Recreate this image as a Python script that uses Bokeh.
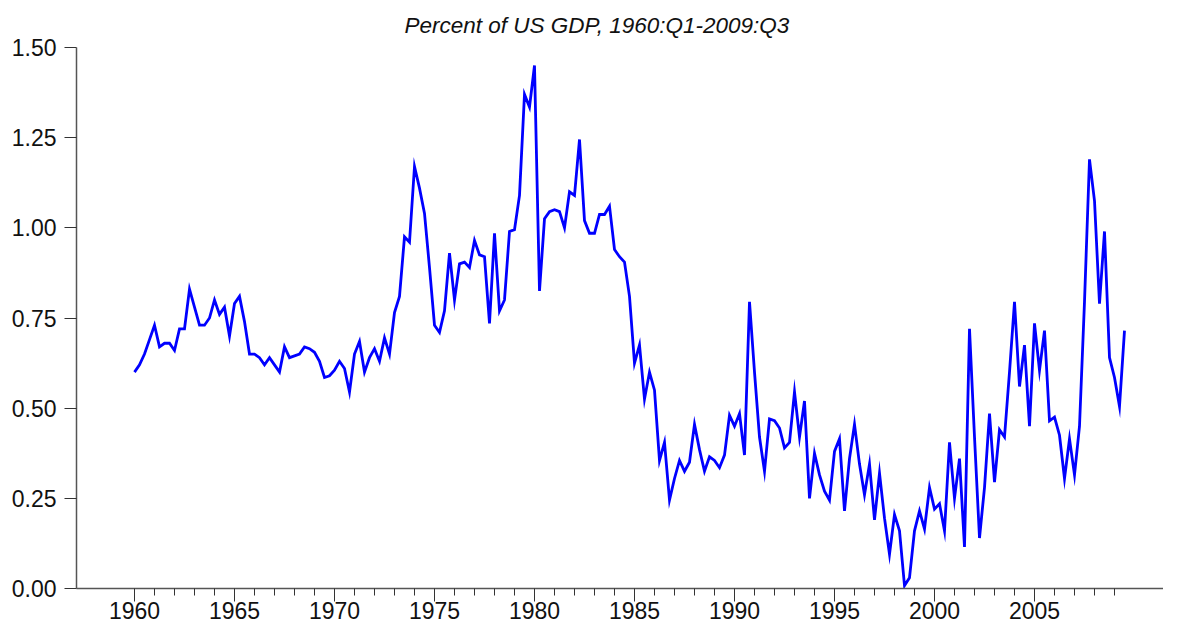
import pandas as pd
from bokeh.plotting import figure
from bokeh.models import Range1d, FixedTicker, ColumnDataSource
from bokeh.embed import file_html
from bokeh.resources import INLINE

title_text = "Percent of US GDP, 1960:Q1-2009:Q3"

# Quarterly values (percent of GDP)
vals_1960s = [0.60, 0.62, 0.65, 0.69, 0.73, 0.67, 0.68, 0.68, 0.66, 0.72,
              0.72, 0.83, 0.78, 0.73, 0.73, 0.75, 0.80, 0.76, 0.78, 0.70,
              0.79, 0.81, 0.74, 0.65, 0.65, 0.64, 0.62, 0.64, 0.62, 0.60,
              0.67, 0.64, 0.645, 0.65, 0.67, 0.665, 0.655, 0.63, 0.585, 0.59]
vals_1970s = [0.605, 0.63, 0.61, 0.545, 0.65, 0.685, 0.60, 0.64, 0.665, 0.63,
              0.695, 0.65, 0.765, 0.81, 0.975, 0.96, 1.17, 1.11, 1.04, 0.89,
              0.73, 0.71, 0.77, 0.93, 0.80, 0.90, 0.905, 0.89, 0.965, 0.925,
              0.92, 0.735, 0.985, 0.77, 0.80, 0.99, 0.995, 1.09, 1.37, 1.335]
vals_1980s = [1.45, 0.825, 1.025, 1.045, 1.05, 1.045, 1.0, 1.10, 1.09, 1.245,
              1.02, 0.985, 0.985, 1.037, 1.037, 1.06, 0.94, 0.92, 0.905, 0.81,
              0.625, 0.675, 0.525, 0.60, 0.55, 0.355, 0.405, 0.245, 0.305, 0.355,
              0.325, 0.35, 0.455, 0.385, 0.325, 0.365, 0.355, 0.335, 0.37, 0.48]
vals_1990s = [0.45, 0.485, 0.37, 0.795, 0.60, 0.42, 0.325, 0.47, 0.465, 0.445,
              0.39, 0.405, 0.545, 0.42, 0.52, 0.25, 0.375, 0.315, 0.27, 0.245,
              0.38, 0.415, 0.215, 0.36, 0.455, 0.345, 0.26, 0.345, 0.19, 0.32,
              0.195, 0.095, 0.205, 0.16, 0.008, 0.03, 0.16, 0.215, 0.165, 0.28]
vals_2000s = [0.22, 0.235, 0.16, 0.405, 0.25, 0.36, 0.115, 0.72, 0.42, 0.14,
              0.28, 0.485, 0.295, 0.44, 0.42, 0.60, 0.795, 0.56, 0.675, 0.45,
              0.735, 0.605, 0.715, 0.465, 0.475, 0.425, 0.305, 0.415, 0.315, 0.45,
              0.795, 1.19, 1.075, 0.79, 0.99, 0.64, 0.585, 0.505, 0.715]

values = vals_1960s + vals_1970s + vals_1980s + vals_1990s + vals_2000s
quarters = pd.period_range("1960Q1", "2009Q3", freq="Q")
dates = [q.year + (q.quarter - 1) / 4.0 for q in quarters]

y_ticks = [0.0, 0.25, 0.5, 0.75, 1.0, 1.25, 1.5]
y_tick_labels = ["0.00", "0.25", "0.50", "0.75", "1.00", "1.25", "1.50"]
x_major_years = [1960, 1965, 1970, 1975, 1980, 1985, 1990, 1995, 2000, 2005]
x_minor_years = [y for y in range(1961, 2010) if y % 5 != 0]

source = ColumnDataSource(data=dict(date=dates, value=values))

FONT = "Liberation Sans"

p = figure(width=1163, height=626, output_backend="svg", toolbar_location=None,
           x_range=Range1d(1957.1, 2011.45), y_range=Range1d(0, 1.5),
           min_border_left=76, min_border_right=0, min_border_top=47,
           min_border_bottom=38, title=title_text)

p.title.align = "left"
p.title.offset = 328
p.title.text_font = FONT
p.title.text_font_style = "italic"
p.title.text_font_size = "22.5px"
p.title.text_color = "#111111"
p.title.standoff = 20

p.xgrid.visible = False
p.ygrid.visible = False
p.outline_line_color = None
p.background_fill_color = "white"
p.border_fill_color = "white"

xa = p.xaxis[0]
xa.ticker = FixedTicker(ticks=x_major_years, minor_ticks=x_minor_years)
xa.major_tick_out = 13
xa.major_tick_in = 0
xa.minor_tick_out = 7
xa.minor_tick_in = 0
xa.axis_line_color = "#555555"
xa.axis_line_width = 1.5
xa.major_tick_line_color = "#333333"
xa.minor_tick_line_color = "#333333"
xa.major_label_standoff = 0
xa.major_label_text_font = FONT
xa.major_label_text_font_size = "23px"
xa.major_label_text_color = "#111111"

ya = p.yaxis[0]
ya.ticker = FixedTicker(ticks=y_ticks)
ya.major_label_overrides = {v: s for v, s in zip(y_ticks, y_tick_labels)}
ya.major_tick_out = 12
ya.major_tick_in = 0
ya.minor_tick_line_color = None
ya.axis_line_color = "#555555"
ya.axis_line_width = 1.5
ya.major_tick_line_color = "#333333"
ya.major_label_standoff = 8
ya.major_label_text_font = FONT
ya.major_label_text_font_size = "23px"
ya.major_label_text_color = "#111111"

p.line(x="date", y="value", source=source, line_color="#0000FF",
       line_width=2.8, line_join="miter")

open("out.html", "w").write(file_html(p, INLINE))
